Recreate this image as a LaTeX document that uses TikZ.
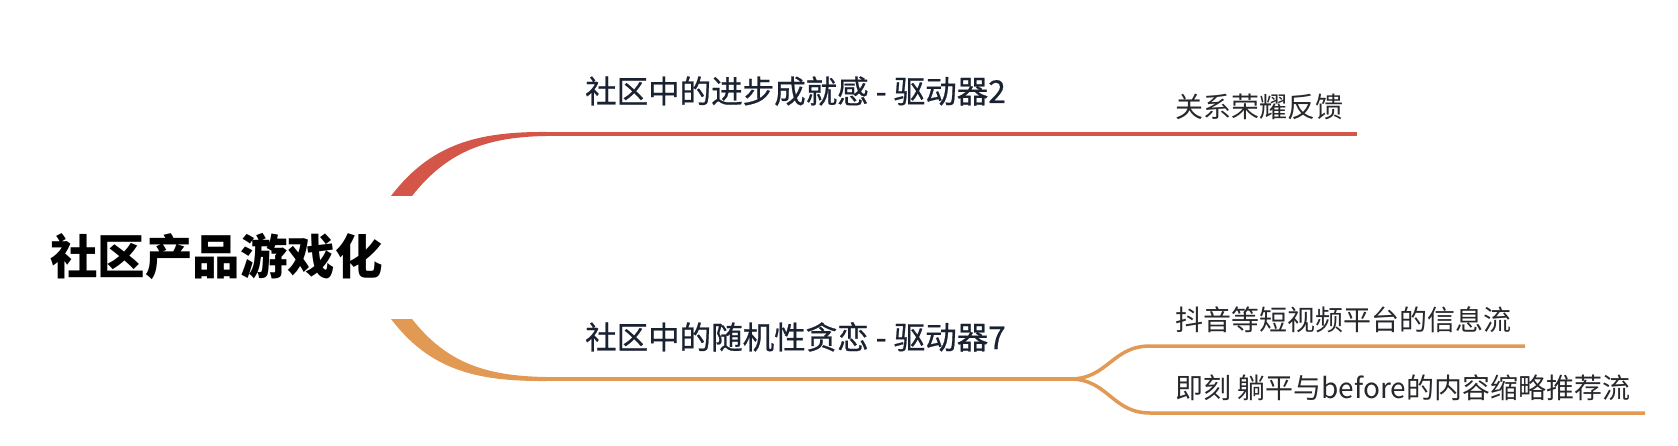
\documentclass[tikz,border=0pt]{standalone}
\usepackage{fontspec}
\newfontfamily\cjk{Noto Sans CJK SC}
\newfontfamily\cjkmed[FakeBold=0.7]{Noto Sans CJK SC}
\begin{document}
\begin{tikzpicture}[x=1pt,y=-1pt,
  txt/.style={inner sep=0pt,anchor=base west},
  roottxt/.style={txt,font=\cjk\fontsize{47.5}{50}\selectfont\bfseries,text=black},
  brtxt/.style={txt,font=\cjkmed\fontsize{31.5}{34}\selectfont,text=navy},
  leaftxt/.style={txt,font=\cjk\fontsize{28}{30}\selectfont,text=leafgray},
  redline/.style={draw=redc,line width=4pt},
  orline/.style={draw=orc,line width=4pt},
  orleaf/.style={draw=orc,line width=3.5pt}]
\definecolor{redc}{RGB}{212,86,72}
\definecolor{orc}{RGB}{226,153,84}
\definecolor{navy}{RGB}{26,34,50}
\definecolor{leafgray}{RGB}{40,40,44}
\useasboundingbox (0,0) rectangle (1678,446);
\fill[white] (0,0) rectangle (1678,446);
% texts
\node[roottxt] (root) at (50,275) {社区产品游戏化};
\node[brtxt] (b1) at (585,103) {社区中的进步成就感 - 驱动器2};
\node[brtxt] (b2) at (585,349) {社区中的随机性贪恋 - 驱动器7};
\node[leaftxt] (l1) at (1175,118) {关系荣耀反馈};
\node[leaftxt] (l2) at (1175,330) {抖音等短视频平台的信息流};
\node[leaftxt] (l3) at (1175,398) {即刻 躺平与before的内容缩略推荐流};
% anchor coordinates
\coordinate (s1) at (401,196);
\coordinate (e1) at (546,134);
\coordinate (s2) at (401,319);
\coordinate (e2) at (546,379);
\coordinate (j2) at (1070,379);
\coordinate (k1) at (1150,346);
\coordinate (k2) at (1150,413);
% red tapered curve
\fill[redc] (391,196) .. controls (430,145) and (476,131.5) .. (546,132)
  -- (546,136) .. controls (484,137) and (446,153) .. (412,196) -- cycle;
\draw[redline] (e1) -- (1357,134) coordinate (t1);
% orange tapered curve
\fill[orc] (391,319) .. controls (430,370) and (476,381.5) .. (546,381)
  -- (546,377) .. controls (484,376) and (446,362) .. (412,319) -- cycle;
\draw[orline] (e2) -- (j2);
\draw[orleaf] (j2) .. controls (1108,379) and (1112,346) .. (k1) -- (1525,346) coordinate (t2);
\draw[orleaf] (j2) .. controls (1108,379) and (1112,413) .. (k2) -- (1645,413) coordinate (t3);
\end{tikzpicture}
\end{document}
